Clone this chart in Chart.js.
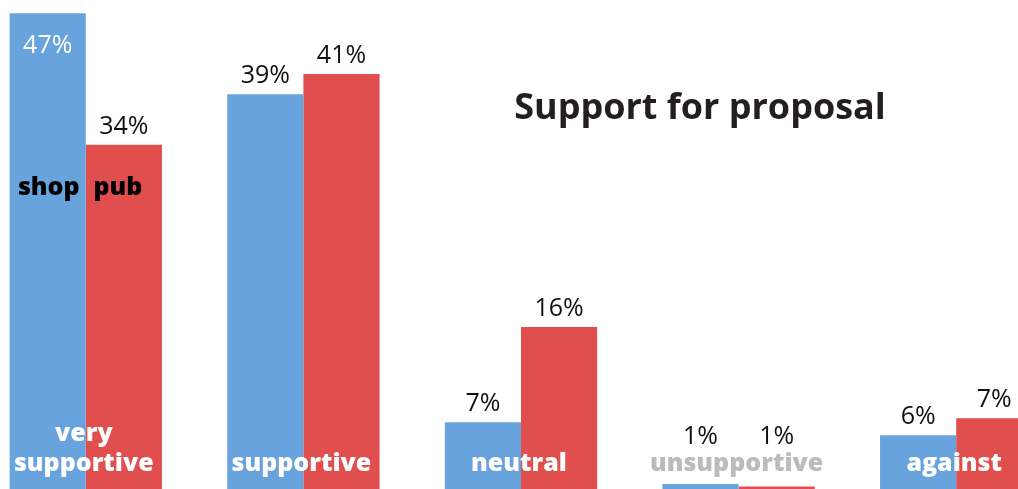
<!DOCTYPE html>
<html>
<head>
<meta charset="utf-8">
<script src="https://cdn.jsdelivr.net/npm/chart.js@4"></script>
<style>
  html, body { margin: 0; padding: 0; background: #fff; overflow: hidden; }
  body { width: 1018px; height: 489px; position: relative; }
  #wrap { position: absolute; left: -23px; top: 0; width: 1088px; height: 489px; }
</style>
</head>
<body>
<div id="wrap"><canvas id="chart" width="1088" height="489"></canvas></div>
<script>
// Data (bar heights as drawn, labels as printed)
const categories = ['very\nsupportive', 'supportive', 'neutral', 'unsupportive', 'against'];
const shopValues = [47, 39, 6.6, 0.5, 5.3];
const pubValues = [34, 41, 16, 0.25, 7];
const shopLabels = ['47%', '39%', '7%', '1%', '6%'];
const pubLabels = ['34%', '41%', '16%', '1%', '7%'];
const seriesNames = ['shop', 'pub'];
const yMax = 48.3;

const BLUE = '#68a3de';
const RED = '#e04e4e';
const FONT = '"Open Sans", "Noto Sans", sans-serif';

// Draws value labels, category names, series names and the title
const labelPlugin = {
    id: 'labels',
    afterDatasetsDraw(chart) {
        const ctx = chart.ctx;
        const xScale = chart.scales.x;
        ctx.save();
        ctx.textAlign = 'center';
        ctx.textBaseline = 'alphabetic';

        // percentage labels
        ctx.font = '400 25px ' + FONT;
        [shopLabels, pubLabels].forEach((labels, d) => {
            const meta = chart.getDatasetMeta(d);
            meta.data.forEach((bar, i) => {
                if (d === 0 && i === 0) {
                    // tallest bar: label sits inside, in white
                    ctx.fillStyle = '#ffffff';
                    ctx.fillText(labels[i], bar.x, bar.y + 40);
                } else {
                    ctx.fillStyle = '#111111';
                    // keep tiny bars' labels clear of the category name
                    ctx.fillText(labels[i], bar.x, Math.min(bar.y - 11, 444));
                }
            });
        });

        // series names on the first group
        ctx.font = '800 25px ' + FONT;
        ctx.fillStyle = '#000000';
        const shopBar = chart.getDatasetMeta(0).data[0];
        const pubBar = chart.getDatasetMeta(1).data[0];
        ctx.fillText(seriesNames[0], shopBar.x + 1, 195);
        ctx.fillText(seriesNames[1], pubBar.x - 6, 195);

        // category names along the bottom
        categories.forEach((cat, i) => {
            const x = xScale.getPixelForValue(i) - 2;
            ctx.fillStyle = cat === 'unsupportive' ? '#bbbbbb' : '#ffffff';
            const lines = cat.split('\n');
            lines.forEach((line, k) => {
                ctx.fillText(line, x, 471 - (lines.length - 1 - k) * 30);
            });
        });

        // title
        ctx.font = 'bold 36px ' + FONT;
        ctx.fillStyle = '#231f20';
        ctx.fillText('Support for proposal', 723, 119);
        ctx.restore();
    }
};

new Chart(document.getElementById('chart'), {
    type: 'bar',
    data: {
        labels: categories,
        datasets: [
            { label: seriesNames[0], data: shopValues, backgroundColor: BLUE },
            { label: seriesNames[1], data: pubValues, backgroundColor: RED }
        ]
    },
    options: {
        responsive: false,
        animation: false,
        layout: { padding: 0 },
        datasets: {
            bar: { categoryPercentage: 0.7, barPercentage: 1.0, borderWidth: 0 }
        },
        plugins: {
            legend: { display: false },
            tooltip: { enabled: false },
            title: { display: false }
        },
        scales: {
            x: { display: false, grid: { display: false } },
            y: { display: false, min: 0, max: yMax, grid: { display: false } }
        }
    },
    plugins: [labelPlugin]
});
</script>
</body>
</html>
